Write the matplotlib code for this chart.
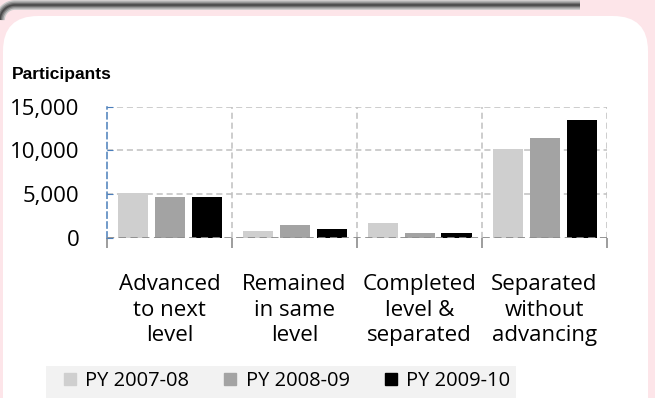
import matplotlib.pyplot as plt
from matplotlib.patches import FancyBboxPatch, Patch, Rectangle
import numpy as np

categories = ['Advanced\nto next\nlevel', 'Remained\nin same\nlevel',
              'Completed\nlevel &\nseparated', 'Separated\nwithout\nadvancing']
series_names = ['PY 2007-08', 'PY 2008-09', 'PY 2009-10']
py_2007_08 = [5100, 800, 1700, 10100]
py_2008_09 = [4700, 1450, 550, 11450]
py_2009_10 = [4650, 1000, 550, 13500]
y_ticks = [0, 5000, 10000, 15000]

colors = ['#cfcfcf', '#a3a3a3', '#000000']
W, H = 655, 398

fig = plt.figure(figsize=(W / 100, H / 100), dpi=100, facecolor='#fde5e9')

# background frame: white rounded panel and the dark rule across the top
bg = fig.add_axes([0, 0, 1, 1], zorder=0)
bg.set_xlim(0, W)
bg.set_ylim(H, 0)
bg.axis('off')
bg.add_patch(FancyBboxPatch((3 + 35, 16 + 35), 645 - 70, 450,
                            boxstyle='round,pad=35', fc='white', ec='none'))
t = np.linspace(np.pi, 1.5 * np.pi, 30)
arc_x = np.concatenate([15 + 15 * np.cos(t), [580]])
arc_y = np.concatenate([20 + 15 * np.sin(t), [5]])
for lw, c in [(7, '#c8c8c8'), (5, '#9a9a9a'), (3, '#707070'), (1.2, '#4a4a4a')]:
    bg.plot(arc_x, arc_y, color=c, lw=lw, solid_capstyle='butt')
# legend strip
bg.add_patch(Rectangle((46, 366), 470, 40, fc='#f2f2f2', ec='none'))

ax = fig.add_axes([107 / W, 1 - 237.7 / H, 500 / W, 131 / H], zorder=1)
ax.set_facecolor('none')

x = np.arange(len(categories))
bw = 0.24
off = 0.296
for i, vals in enumerate([py_2007_08, py_2008_09, py_2009_10]):
    ax.bar(x + (i - 1) * off, vals, width=bw, color=colors[i], zorder=2)

ax.set_xlim(-0.5, len(categories) - 0.5)
ax.set_ylim(0, 15000)

# dashed grid
dash = (0, (4, 2.5))
for v in y_ticks[1:]:
    ax.axhline(v, color='#c0c0c0', lw=1.1, ls=dash, zorder=1)
for b in np.arange(0.5, len(categories) - 0.5):
    ax.axvline(b, color='#c0c0c0', lw=1.1, ls=dash, zorder=1)
ax.axvline(len(categories) - 0.5, color='#c0c0c0', lw=1.1, ls=dash, zorder=1)
ax.axhline(0, color='#8c8c8c', lw=1.3, ls=dash, zorder=3)

for s in ['top', 'right', 'bottom']:
    ax.spines[s].set_visible(False)
ax.spines['left'].set_color('#4a7ebb')
ax.spines['left'].set_linestyle(dash)
ax.spines['left'].set_linewidth(1.1)

tick_font = dict(family=['Open Sans', 'DejaVu Sans'], size=16)
ax.set_yticks(y_ticks)
ax.set_yticklabels([f'{v:,}' for v in y_ticks], **tick_font)
ax.tick_params(axis='y', direction='in', length=4, color='#4a7ebb', pad=20)

ax.set_xticks(x)
ax.set_xticklabels(categories, linespacing=1.3, **tick_font)
ax.set_xticks(np.arange(-0.5, len(categories)), minor=True)
ax.tick_params(axis='x', which='major', length=0, pad=26)
ax.tick_params(axis='x', which='minor', length=7, color='#8c8c8c', width=1.2)

fig.text(12 / W, 1 - 75 / H, 'Participants', fontsize=12.5, fontweight='bold',
         family=['Liberation Sans Narrow', 'Liberation Sans', 'DejaVu Sans'],
         va='center', ha='left')

handles = [Patch(color=c) for c in colors]
fig.legend(handles, series_names, loc='center left',
           bbox_to_anchor=(64 / W, 1 - 381 / H),
           prop=dict(family=['Open Sans', 'DejaVu Sans'], size=14.5),
           frameon=False, ncol=3, handlelength=0.6, handleheight=0.6,
           handletextpad=0.45, columnspacing=1.75, borderpad=0, borderaxespad=0)

fig.savefig('out.png', dpi=100, facecolor=fig.get_facecolor())
